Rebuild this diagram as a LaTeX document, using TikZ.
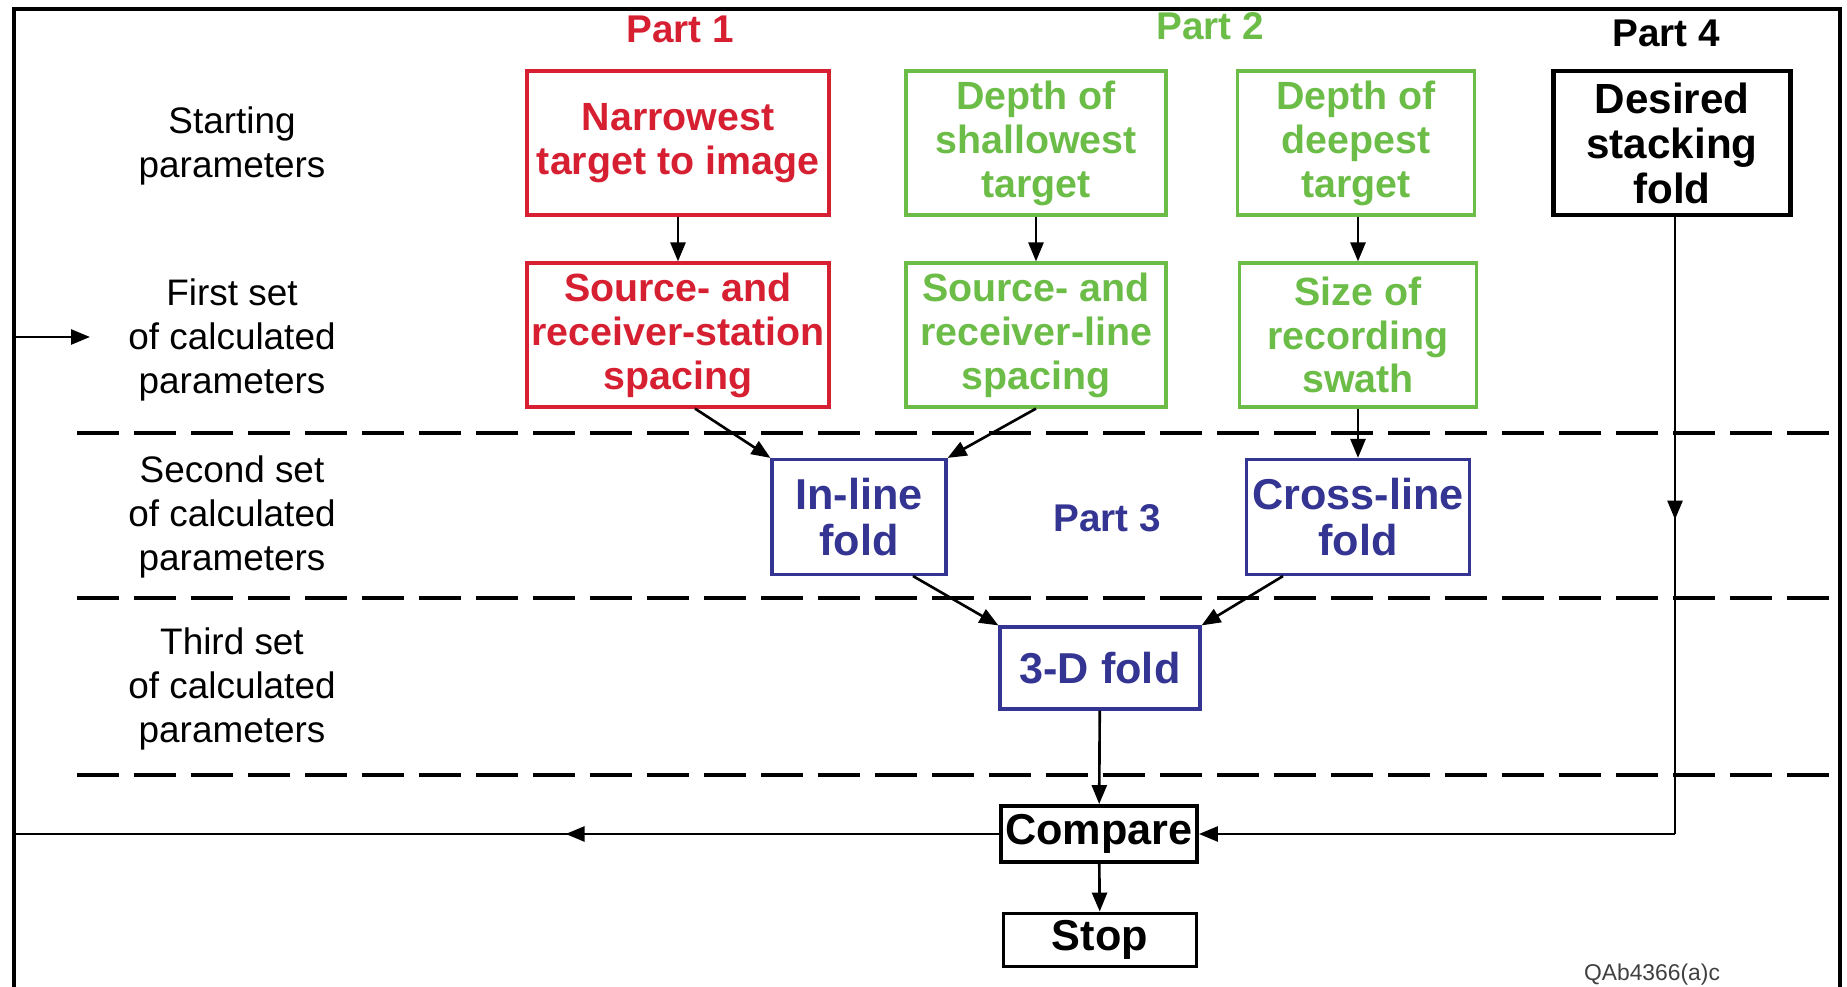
\documentclass[tikz,border=0pt]{standalone}
\usepackage{fontspec}
\setmainfont{Liberation Sans}
\usetikzlibrary{arrows.meta,decorations.markings}
\definecolor{partred}{RGB}{214,32,50}
\definecolor{partgreen}{RGB}{108,188,72}
\definecolor{partblue}{RGB}{52,52,146}
\begin{document}
\begin{tikzpicture}[
	box/.style={draw,line width=0.9pt,align=center,inner sep=0pt,
		font=\fontsize{11.2}{12.5}\selectfont\bfseries},
	redbox/.style={box,draw=partred,text=partred,minimum width=3.02cm,minimum height=1.44cm},
	greenbox/.style={box,draw=partgreen,text=partgreen,minimum height=1.44cm},
	bluebox/.style={box,draw=partblue,text=partblue,font=\fontsize{12.3}{13}\selectfont\bfseries},
	blackbox/.style={box,line width=1.1pt,font=\fontsize{12.3}{13}\selectfont\bfseries},
	level/.style={align=center,font=\fontsize{10.5}{12.5}\selectfont},
	partlabel/.style={font=\fontsize{11}{12.5}\selectfont\bfseries},
	arr/.style={-{Triangle[length=1.9mm,width=1.5mm]},line width=0.75pt},
	midarr/.style={line width=0.75pt,postaction={decorate},decoration={markings,
		mark=at position #1 with {\arrow{Triangle[length=1.9mm,width=1.5mm]}}}},
	sep/.style={line width=1pt,dash pattern=on 4.2mm off 1.5mm}
	]
	\useasboundingbox (0,0) rectangle (18.47,9.87);
	\draw[line width=0.9pt] (0.14,0) |- (18.40,9.78) -- (18.40,0);
	\foreach \y in {5.54,3.89,2.12}
		\draw[sep] (0.77,\y) -- (18.40,\y);

	\node[level] (start) at (2.32,8.41) {Starting\\parameters};
	\node[level] (first) at (2.32,6.47) {First set\\of calculated\\parameters};
	\node[level] (second) at (2.32,4.70) {Second set\\of calculated\\parameters};
	\node[level] (third) at (2.32,2.98) {Third set\\of calculated\\parameters};

	\node[partlabel,text=partred] (part1) at (6.80,9.58) {Part 1};
	\node[partlabel,text=partgreen] (part2) at (12.10,9.61) {Part 2};
	\node[partlabel,text=partblue] (part3) at (11.07,4.69) {Part 3};
	\node[partlabel] (part4) at (16.66,9.54) {Part 4};

	\node[redbox] (narrow) at (6.78,8.44) {Narrowest\\target to image};
	\node[greenbox,minimum width=2.60cm] (shallow) at (10.36,8.44) {Depth of\\shallowest\\target};
	\node[greenbox,minimum width=2.37cm] (deep) at (13.56,8.44) {Depth of\\deepest\\target};
	\node[blackbox,line width=1.4pt,minimum width=2.37cm,minimum height=1.44cm,
		font=\fontsize{12}{12.8}\selectfont\bfseries] (desired) at (16.72,8.44) {Desired\\stacking\\fold};

	\node[redbox] (station) at (6.78,6.52) {Source- and\\receiver-station\\spacing};
	\node[greenbox,minimum width=2.60cm] (linesp) at (10.36,6.52) {Source- and\\receiver-line\\spacing};
	\node[greenbox,minimum width=2.37cm] (swath) at (13.58,6.52) {Size of\\recording\\swath};

	\node[bluebox,minimum width=1.74cm,minimum height=1.15cm] (inline) at (8.59,4.70) {In-line\\fold};
	\node[bluebox,minimum width=2.23cm,minimum height=1.15cm] (crossline) at (13.58,4.70) {Cross-line\\fold};
	\node[bluebox,minimum width=2.00cm,minimum height=0.82cm] (threed) at (11.00,3.19) {3-D fold};

	\node[blackbox,minimum width=1.96cm,minimum height=0.56cm] (compare) at (10.99,1.53) {Compare};
	\node[blackbox,minimum width=1.93cm,minimum height=0.53cm] (stop) at (11.00,0.47) {Stop};

	\node[font=\fontsize{6.5}{8}\selectfont,text=black!75] (tag) at (16.52,0.12) {QAb4366(a)c};

	\draw[arr] (narrow) -- (station);
	\draw[arr] (shallow) -- (linesp);
	\draw[arr] (deep.south -| swath) -- (swath);
	\draw[arr] ([xshift=1.7mm]station.south) -- (inline.north west);
	\draw[arr] (linesp.south) -- (inline.north east);
	\draw[arr] (swath) -- (crossline);
	\draw[arr] ([xshift=5.4mm]inline.south) -- (threed.north west);
	\draw[arr] ([xshift=-7.5mm]crossline.south) -- (threed.north east);
	\draw[arr] (threed) -- (compare);
	\draw[arr] (compare) -- (stop);

	\coordinate (turn4) at ([xshift=0.3mm]desired.south |- compare.east);
	\draw[midarr=0.49] ([xshift=0.3mm]desired.south) -- (turn4);
	\draw[arr] (turn4) -- (compare.east);

	\coordinate (backlow) at (0.14,1.53);
	\coordinate (backhigh) at (0.14,6.50);
	\coordinate (backtip) at (0.90,6.50);
	\draw[midarr=0.44] (compare.west) -- (backlow);
	\draw[arr] (backlow) -- (backhigh) -- (backtip);
\end{tikzpicture}
\end{document}
